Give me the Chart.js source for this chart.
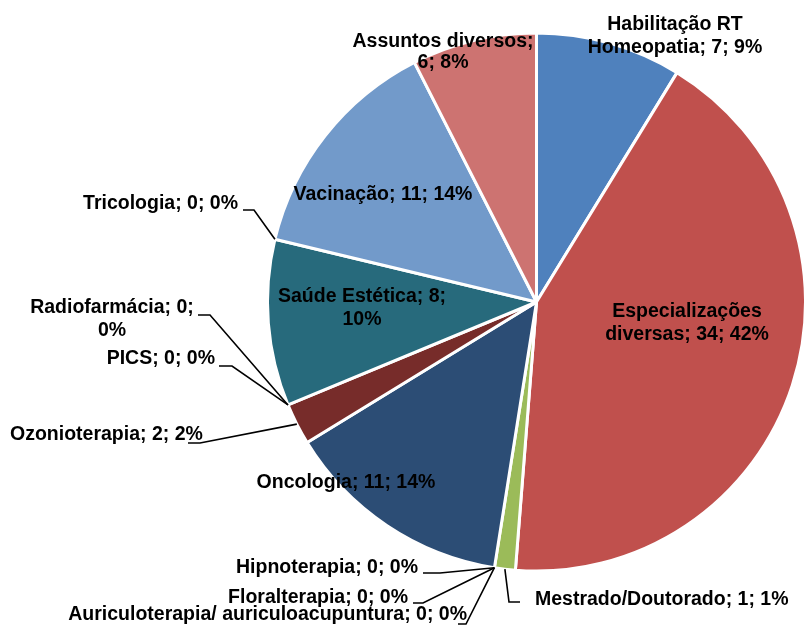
<!DOCTYPE html>
<html>
<head>
<meta charset="utf-8">
<script src="https://cdn.jsdelivr.net/npm/chart.js@4/dist/chart.umd.min.js"></script>
<style>
  html, body { margin: 0; padding: 0; background: #fff; }
  #chartPie { display: block; }
</style>
</head>
<body>
<canvas id="chartPie" width="807" height="626"></canvas>
<script>
// data
var categories = [
  'Habilitação RT Homeopatia',
  'Especializações diversas',
  'Mestrado/Doutorado',
  'Auriculoterapia/ auriculoacupuntura',
  'Floralterapia',
  'Hipnoterapia',
  'Oncologia',
  'Ozonioterapia',
  'PICS',
  'Radiofarmácia',
  'Saúde Estética',
  'Tricologia',
  'Vacinação',
  'Assuntos diversos'
];
var counts = [7, 34, 1, 0, 0, 0, 11, 2, 0, 0, 8, 0, 11, 6];
var percents = [9, 42, 1, 0, 0, 0, 14, 2, 0, 0, 10, 0, 14, 8];

var colors = [
  '#4F81BD', '#C0504D', '#9BBB59', '#8064A2', '#4BACC6', '#F79646',
  '#2C4D75', '#772C2A', '#5F7530', '#4D3B62', '#276A7C', '#B65708',
  '#729ACA', '#CD7371'
];

// where each data label sits (x/y of first line), how it wraps, leader elbow
var labelLayout = [
  { x: 675, y: 25, align: 'center', wrap: 2 },
  { x: 687, y: 312, align: 'center', wrap: 1 },
  { x: 535, y: 600, align: 'left', leader: [[520, 602], [509, 602]] },
  { x: 467, y: 615, align: 'right', leader: [[458, 624], [466, 624]], at: 'start' },
  { x: 408, y: 598, align: 'right', leader: [[413, 603], [423, 603]], at: 'start' },
  { x: 418, y: 568, align: 'right', leader: [[423, 573], [440, 573]], at: 'start' },
  { x: 346, y: 483, align: 'center' },
  { x: 10, y: 435, align: 'left', leader: [[188, 443], [200, 443]] },
  { x: 215, y: 359, align: 'right', leader: [[219, 366], [232, 366]], at: 'start' },
  { x: 112, y: 308, align: 'center', wrap: 2, leader: [[198, 315], [210, 315]], at: 'start' },
  { x: 362, y: 297, align: 'center', wrap: 3 },
  { x: 238, y: 204, align: 'right', leader: [[243, 210], [254, 210]], at: 'start' },
  { x: 383, y: 195, align: 'center' },
  { x: 443, y: 42, align: 'center', wrap: 2, lh: 21 }
];

var labelPlugin = {
  id: 'excelLabels',
  afterDatasetsDraw: function (chart) {
    var ctx = chart.ctx;
    var meta = chart.getDatasetMeta(0);
    ctx.save();
    ctx.font = 'bold 19.5px "Liberation Sans", Arial, sans-serif';
    ctx.fillStyle = '#000';
    ctx.strokeStyle = '#000';
    ctx.lineWidth = 1.6;
    ctx.textBaseline = 'middle';
    meta.data.forEach(function (arc, i) {
      var lay = labelLayout[i];
      var p = arc.getProps(['x', 'y', 'startAngle', 'endAngle', 'outerRadius'], true);
      if (lay.leader) {
        var ang = lay.at === 'start' ? p.startAngle : (p.startAngle + p.endAngle) / 2;
        var ax = p.x + Math.cos(ang) * p.outerRadius;
        var ay = p.y + Math.sin(ang) * p.outerRadius;
        ctx.beginPath();
        ctx.moveTo(lay.leader[0][0], lay.leader[0][1]);
        ctx.lineTo(lay.leader[1][0], lay.leader[1][1]);
        ctx.lineTo(ax, ay);
        ctx.stroke();
      }
      var words = (categories[i] + '; ' + counts[i] + '; ' + percents[i] + '%').split(' ');
      var lines = lay.wrap ? [words.slice(0, lay.wrap).join(' '), words.slice(lay.wrap).join(' ')] : [words.join(' ')];
      ctx.textAlign = lay.align;
      lines.forEach(function (t, k) {
        ctx.fillText(t, lay.x, lay.y + k * (lay.lh || 23));
      });
    });
    ctx.restore();
  }
};

new Chart(document.getElementById('chartPie').getContext('2d'), {
  type: 'pie',
  data: {
    labels: categories,
    datasets: [{
      data: counts,
      backgroundColor: colors,
      borderColor: '#FFFFFF',
      borderWidth: 3
    }]
  },
  options: {
    responsive: false,
    animation: false,
    layout: { padding: { left: 266, top: 31, right: 0, bottom: 53 } },
    plugins: {
      legend: { display: false },
      tooltip: { enabled: false }
    }
  },
  plugins: [labelPlugin]
});
</script>
</body>
</html>
